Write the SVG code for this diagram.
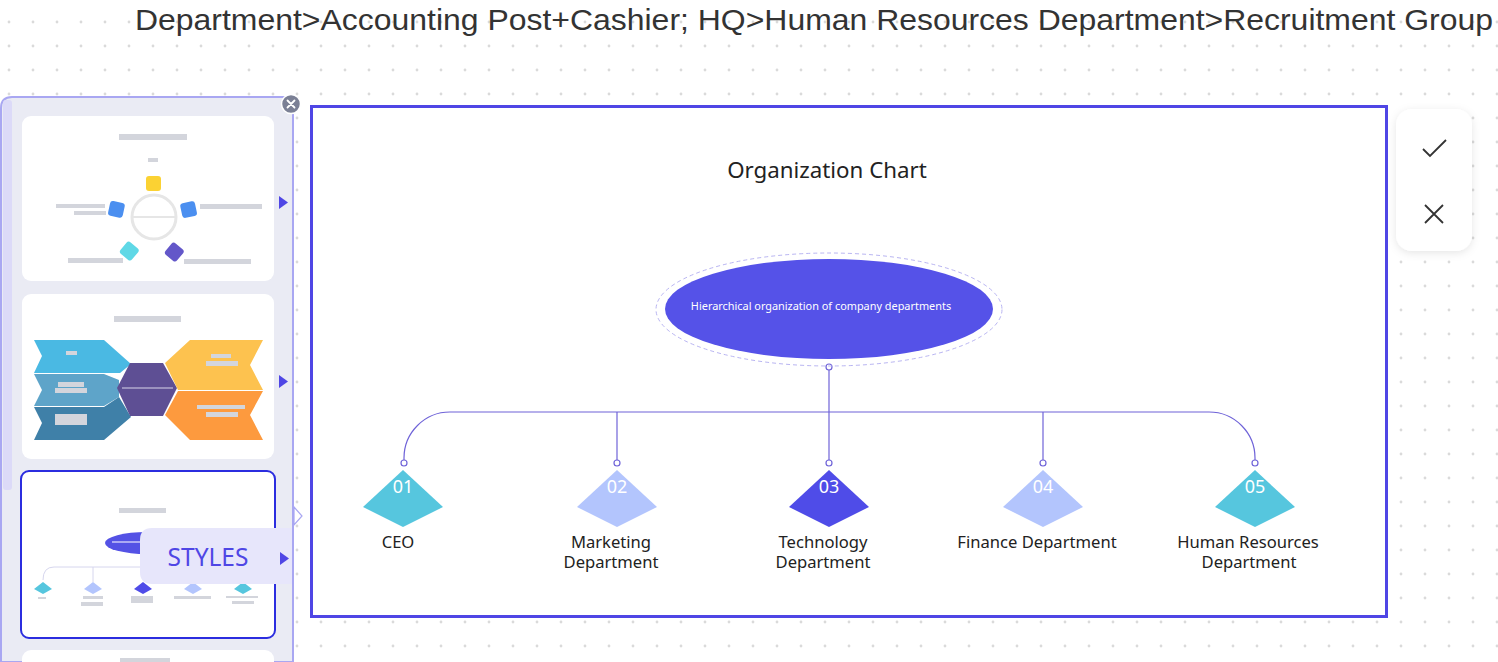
<svg xmlns="http://www.w3.org/2000/svg" width="1498" height="662" viewBox="0 0 1498 662">
<defs>
<pattern id="dots" x="9" y="22" width="24" height="24" patternUnits="userSpaceOnUse">
<circle cx="0" cy="0" r="1.4" fill="#dadada"/><circle cx="24" cy="0" r="1.4" fill="#dadada"/><circle cx="0" cy="24" r="1.4" fill="#dadada"/><circle cx="24" cy="24" r="1.4" fill="#dadada"/>
</pattern>
<filter id="sh" x="-30%" y="-20%" width="160%" height="140%"><feDropShadow dx="0" dy="2" stdDeviation="4" flood-color="#000" flood-opacity="0.10"/></filter>
<style>
.lbl{font-family:"Noto Sans","Open Sans",sans-serif;font-size:16.6px;fill:#222;text-anchor:middle}
.num{font-family:"Noto Sans","Open Sans",sans-serif;font-size:18px;fill:#fff;text-anchor:middle}
.conn{fill:none;stroke:#6f63d8;stroke-width:1.2}
.port{fill:#fff;stroke:#6f63d8;stroke-width:1.2}
.bar{fill:#d3d5dc}
.card{fill:#fff}
.tri{fill:#4f46e5}
</style>
</defs>
<rect width="1498" height="662" fill="#fff"/>
<rect width="1498" height="662" fill="url(#dots)"/>
<text x="135" y="30" font-family="Liberation Sans, Arial, sans-serif" font-size="30" fill="#333" textLength="1358" lengthAdjust="spacingAndGlyphs">Department&gt;Accounting Post+Cashier; HQ&gt;Human Resources Department&gt;Recruitment Group</text>

<g id="panel">
<path d="M1 662 V108 Q1 97 12 97 H293 V662 Z" fill="#eaebf4" stroke="#a9a7f2" stroke-width="2"/>
<rect x="3" y="100" width="9" height="390" rx="3" fill="#dcdaf8"/>
<g id="card1">
<rect class="card" x="22" y="116" width="252" height="165" rx="9"/>
<rect class="bar" x="119" y="134" width="68" height="6"/>
<rect class="bar" x="148" y="158" width="10" height="4"/>
<rect x="146" y="176" width="15" height="15" rx="3" fill="#fbd233"/>
<circle cx="154" cy="217" r="22" fill="none" stroke="#e6e6e6" stroke-width="3"/>
<line x1="132" y1="217" x2="176" y2="217" stroke="#e6e6e6" stroke-width="2"/>
<rect x="109" y="202" width="15" height="15" rx="3" fill="#4b8ff0" transform="rotate(12 117 209)"/>
<rect x="181" y="202" width="15" height="15" rx="3" fill="#4b8ff0" transform="rotate(-12 189 209)"/>
<rect x="122" y="244" width="15" height="15" rx="3" fill="#5fd8e6" transform="rotate(40 130 251)"/>
<rect x="167" y="245" width="15" height="15" rx="3" fill="#6357c9" transform="rotate(40 175 252)"/>
<rect class="bar" x="56" y="204" width="49" height="4"/>
<rect class="bar" x="74" y="211" width="32" height="4"/>
<rect class="bar" x="200" y="204" width="62" height="5"/>
<rect class="bar" x="68" y="258" width="55" height="5"/>
<rect class="bar" x="184" y="259" width="67" height="5"/>
</g>
<polygon class="tri" points="279,196 288,202.5 279,209"/>
<g id="card2">
<rect class="card" x="22" y="294" width="252" height="165" rx="9"/>
<rect class="bar" x="114" y="316" width="67" height="6"/>
<polygon points="34,340 104,340 131,364 120,373 34,373 42,356" fill="#4ab9e3"/>
<polygon points="34,374 104,374 119,380 119,397 104,406 34,406 42,390" fill="#5ea4c9"/>
<polygon points="34,407 104,407 119,397 131,417 104,440 34,440 42,423" fill="#3f80a8"/>
<polygon points="117,388 130,363 163,363 177,388 163,416 130,416" fill="#5e4f94"/>
<line x1="122" y1="388" x2="173" y2="388" stroke="#d8d6ea" stroke-width="1.2"/>
<polygon points="190,340 263,340 250,365 263,390 178,390 165,363" fill="#fdc24f"/>
<polygon points="178,391 263,391 250,415 263,440 190,440 165,415" fill="#fd9a3e"/>
<rect class="bar" x="66" y="351" width="11" height="4"/>
<rect class="bar" x="58" y="382" width="26" height="5"/>
<rect class="bar" x="55" y="388" width="32" height="5"/>
<rect class="bar" x="55" y="414" width="32" height="11"/>
<rect class="bar" x="211" y="354" width="20" height="4"/>
<rect class="bar" x="206" y="361" width="32" height="5"/>
<rect class="bar" x="197" y="405" width="48" height="4"/>
<rect class="bar" x="206" y="412" width="32" height="5"/>
</g>
<polygon class="tri" points="279,375 288,381.5 279,388"/>
<g id="card3">
<rect class="card" x="21" y="471" width="254" height="167" rx="8" stroke="#2b2ddf" stroke-width="2"/>
<rect class="bar" x="119" y="508" width="47" height="5"/>
<ellipse cx="147" cy="543" rx="42" ry="11" fill="#5452e5"/>
<line x1="112" y1="542" x2="160" y2="542" stroke="#c9c7f7" stroke-width="1.5"/>
<path d="M43 580 Q43 567 54 567 H250" fill="none" stroke="#d6d6ee" stroke-width="1"/>
<line x1="93" y1="567" x2="93" y2="582" stroke="#d6d6ee" stroke-width="1"/>
<polygon points="43,582 52,589 43,594 34,589" fill="#56c6de"/>
<polygon points="93,582 102,589 93,594 84,589" fill="#b3c5fd"/>
<polygon points="143,582 152,589 143,594 134,589" fill="#4f4ce8"/>
<polygon points="193,582 202,589 193,594 184,589" fill="#b3c5fd"/>
<polygon points="243,582 252,589 243,594 234,589" fill="#56c6de"/>
<rect class="bar" x="38" y="597" width="8" height="2"/>
<rect class="bar" x="83" y="596" width="20" height="3"/>
<rect class="bar" x="81" y="602" width="22" height="4"/>
<rect class="bar" x="131" y="596" width="22" height="7"/>
<rect class="bar" x="174" y="596" width="37" height="3"/>
<rect class="bar" x="226" y="596" width="32" height="2"/>
<rect class="bar" x="232" y="601" width="22" height="3"/>
</g>
<g id="styles">
<path d="M152 528 H292 V584 H152 Q140 584 140 572 V540 Q140 528 152 528 Z" fill="#e7e6fb"/>
<text x="208" y="566" font-family="Noto Sans, Open Sans, sans-serif" font-size="24.5" fill="#4f46e5" text-anchor="middle">STYLES</text>
<polygon class="tri" points="280,552 289,558.5 280,565"/>
</g>
<polygon points="294,507 302,516 294,525" fill="#fff" stroke="#a9a7f2" stroke-width="1.2"/>
<rect x="22" y="650" width="252" height="20" rx="9" fill="#fff"/>
<rect class="bar" x="120" y="658" width="50" height="5"/>
<g id="close">
<circle cx="291" cy="104" r="9.5" fill="#7b8095" stroke="#fff" stroke-width="1.5"/>
<path d="M287.5 100.5 L294.5 107.5 M294.5 100.5 L287.5 107.5" stroke="#fff" stroke-width="1.8" stroke-linecap="round"/>
</g>
</g>

<g id="frame">
<rect x="311.5" y="106.5" width="1075" height="510" fill="#fff" stroke="#4f46e5" stroke-width="3"/>
<text x="827" y="178" font-family="Noto Sans, Open Sans, sans-serif" font-size="22.3" fill="#222" text-anchor="middle">Organization Chart</text>
</g>

<g id="connectors">
<line class="conn" x1="829" y1="370" x2="829" y2="412"/>
<path class="conn" d="M404 460 V458 A46 46 0 0 1 450 412 H1209 A46 46 0 0 1 1255 458 V460"/>
<line class="conn" x1="617" y1="412" x2="617" y2="460"/>
<line class="conn" x1="829" y1="412" x2="829" y2="460"/>
<line class="conn" x1="1043" y1="412" x2="1043" y2="460"/>
<circle class="port" cx="829" cy="367" r="3"/>
<circle class="port" cx="404" cy="463" r="3"/>
<circle class="port" cx="617" cy="463" r="3"/>
<circle class="port" cx="829" cy="463" r="3"/>
<circle class="port" cx="1043" cy="463" r="3"/>
<circle class="port" cx="1255" cy="463" r="3"/>
</g>

<g id="root">
<ellipse cx="829" cy="309.5" rx="173" ry="56.5" fill="none" stroke="#b9b5f2" stroke-width="1" stroke-dasharray="4 3"/>
<ellipse cx="829" cy="309" rx="164" ry="50" fill="#5552e8"/>
<text x="821" y="310" font-family="Noto Sans, Open Sans, sans-serif" font-size="10.9" fill="#fff" text-anchor="middle">Hierarchical organization of company departments</text>
</g>

<g id="n01">
<polygon points="403,470 443,507 403,527 363,507" fill="#56c6de"/>
<text class="num" x="403" y="493">01</text>
<text class="lbl" x="398" y="548">CEO</text>
</g>
<g id="n02">
<polygon points="617,470 657,507 617,527 577,507" fill="#b3c5fd"/>
<text class="num" x="617" y="493">02</text>
<text class="lbl" x="611" y="548">Marketing</text>
<text class="lbl" x="611" y="568">Department</text>
</g>
<g id="n03">
<polygon points="829,470 869,507 829,527 789,507" fill="#4f4ce8"/>
<text class="num" x="829" y="493">03</text>
<text class="lbl" x="823" y="548">Technology</text>
<text class="lbl" x="823" y="568">Department</text>
</g>
<g id="n04">
<polygon points="1043,470 1083,507 1043,527 1003,507" fill="#b3c5fd"/>
<text class="num" x="1043" y="493">04</text>
<text class="lbl" x="1037" y="548">Finance Department</text>
</g>
<g id="n05">
<polygon points="1255,470 1295,507 1255,527 1215,507" fill="#56c6de"/>
<text class="num" x="1255" y="493">05</text>
<text class="lbl" x="1248" y="548">Human Resources</text>
<text class="lbl" x="1249" y="568">Department</text>
</g>

<g id="toolbar">
<rect x="1396" y="109" width="76" height="142" rx="16" fill="#fff" filter="url(#sh)"/>
<path d="M1423 149 L1430 156 L1446 140" fill="none" stroke="#333" stroke-width="1.8"/>
<path d="M1425 205 L1443 223 M1443 205 L1425 223" fill="none" stroke="#333" stroke-width="1.8"/>
</g>
</svg>
